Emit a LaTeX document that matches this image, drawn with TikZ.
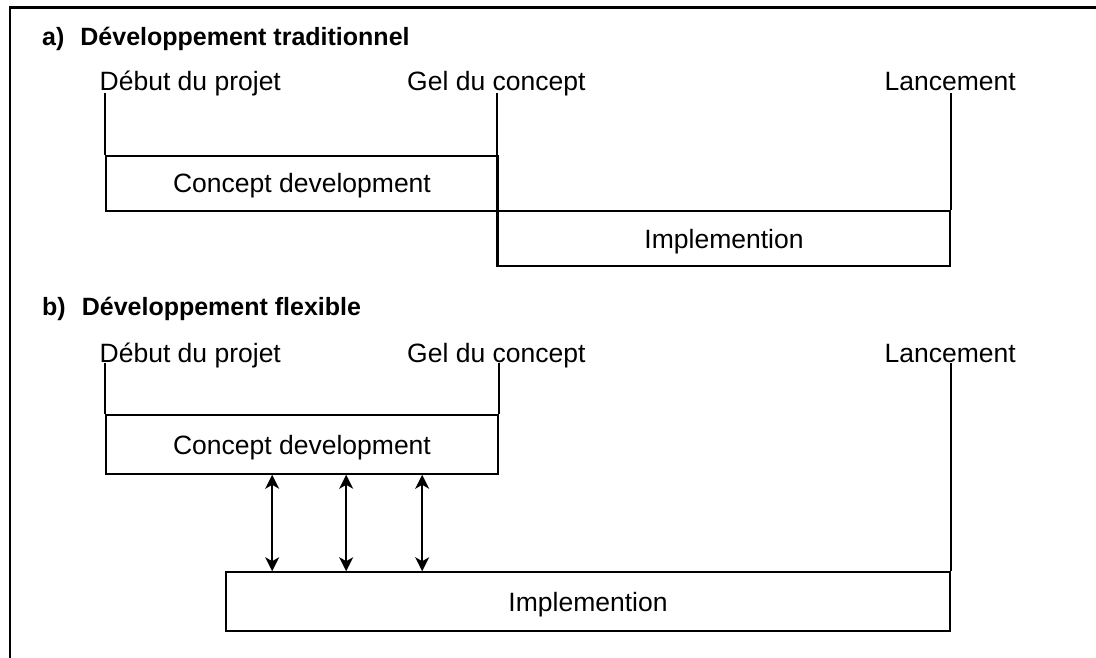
\documentclass[tikz,border=0pt]{standalone}
\usepackage{fontspec}
\setmainfont{Liberation Sans}
\usetikzlibrary{arrows.meta}
\begin{document}
\begin{tikzpicture}[x=1pt,y=-1pt,
  lbl/.style={anchor=base west, inner sep=0pt, font=\fontsize{26.5}{30}\selectfont},
  ttl/.style={anchor=base west, inner sep=0pt, font=\fontsize{25}{30}\selectfont\bfseries},
  phase/.style={draw, line width=1.6pt, inner sep=0pt, text height=19pt, text depth=0pt,
                font=\fontsize{26.5}{30}\selectfont},
  rule/.style={line width=1.6pt},
  pageedge/.style={line width=2.8pt},
  link/.style={line width=1.6pt, {Stealth[length=14pt,width=14pt,inset=4pt]}-{Stealth[length=14pt,width=14pt,inset=4pt]}}]
\useasboundingbox (0,0) rectangle (1096,658);
% open outline: left and top sides only
\coordinate (fl) at (10,680);
\coordinate (fc) at (10,7.5);
\coordinate (fr) at (1110,7.5);
\draw[pageedge] (fl) -- (fc) -- (fr);

% ---------- a) traditional development ----------
\node[ttl] (ta) at (42,46) {a)\hspace{16pt}Développement traditionnel};
\node[lbl] (sa) at (99.5,91) {Début du projet};
\node[lbl] (ga) at (407,91) {Gel du concept};
\node[lbl] (la) at (884.5,91) {Lancement};
\coordinate (topa) at (0,93);

\node[phase, minimum width=392pt, minimum height=55pt] (ca) at (302,183.5) {Concept development};
\node[phase, minimum width=452pt, minimum height=55pt] (ia) at (724,238.5) {Implemention};

\draw[rule] (ca.north west |- topa) -- (ca.north west);
\draw[rule] (ia.north west |- topa) -- (ia.south west);
\draw[rule] (ia.north east |- topa) -- (ia.north east);

% ---------- b) flexible development ----------
\node[ttl] (tb) at (42,315) {b)\hspace{16pt}Développement flexible};
\node[lbl] (sb) at (99.5,362) {Début du projet};
\node[lbl] (gb) at (407,362) {Gel du concept};
\node[lbl] (lb) at (884.5,362) {Lancement};
\coordinate (topb) at (0,363);

\node[phase, minimum width=392pt, minimum height=59pt] (cb) at (302,444.5) {Concept development};
\node[phase, minimum width=724pt, minimum height=59pt] (ib) at (588,601.5) {Implemention};

\draw[rule] (cb.north west |- topb) -- (cb.north west);
\draw[rule] (cb.north east |- topb) -- (cb.north east);
\draw[rule] (ib.north east |- topb) -- (ib.north east);

% feedback between concept work and implementation
\coordinate (u1) at ([xshift=167pt]cb.south west);
\coordinate (u2) at ([xshift=241pt]cb.south west);
\coordinate (u3) at ([xshift=317pt]cb.south west);
\draw[link] (u1) -- (u1 |- ib.north);
\draw[link] (u2) -- (u2 |- ib.north);
\draw[link] (u3) -- (u3 |- ib.north);
\end{tikzpicture}
\end{document}
